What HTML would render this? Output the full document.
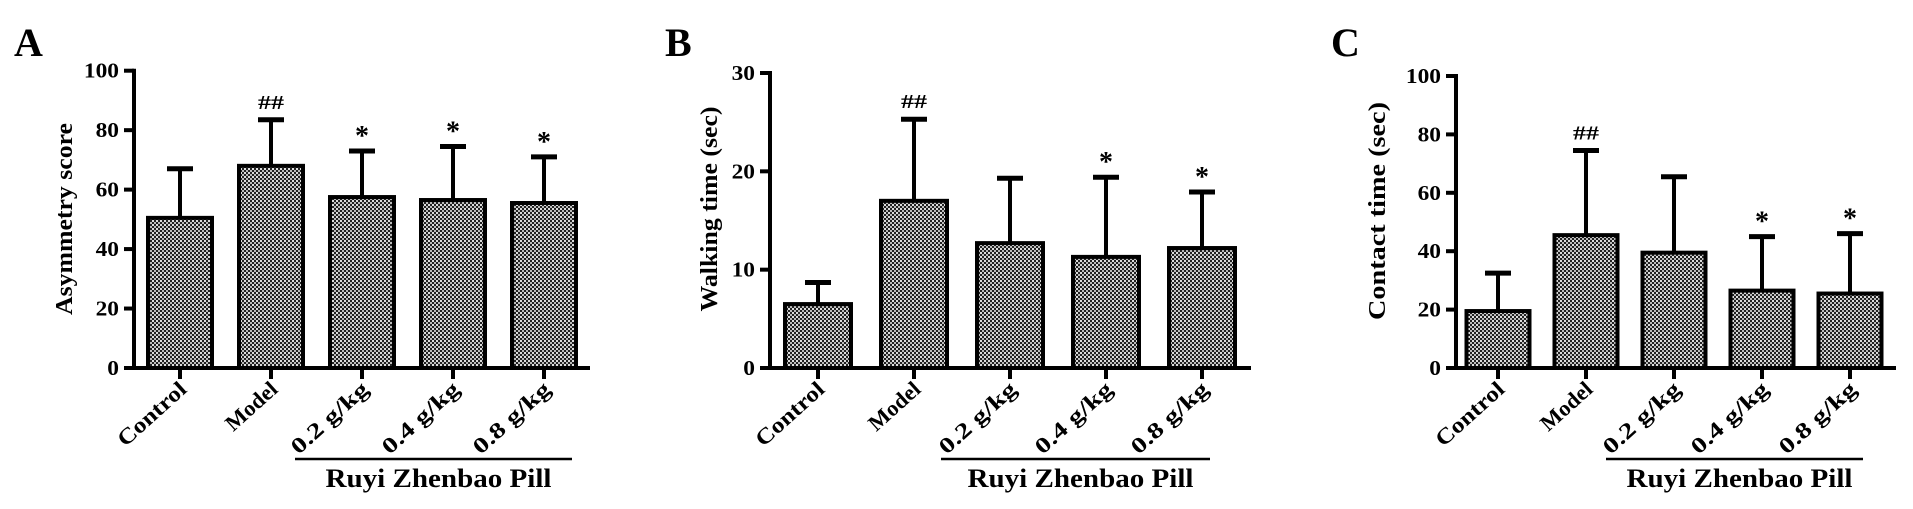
<!DOCTYPE html>
<html><head><meta charset="utf-8"><style>
html,body{margin:0;padding:0;background:#fff;}
svg{display:block;font-family:"Liberation Serif",serif;font-weight:bold;}
</style></head><body>
<svg id="fig" width="1913" height="509" viewBox="0 0 1913 509" xmlns="http://www.w3.org/2000/svg">
<defs>
<pattern id="chk" width="4" height="4" patternUnits="userSpaceOnUse">
<rect width="4" height="4" fill="#222"/>
<rect x="0" y="0" width="2" height="2" fill="#ddd"/>
<rect x="2" y="2" width="2" height="2" fill="#bbb"/>
</pattern>
</defs>
</svg>
<script>
const categories=["Control","Model","0.2 g/kg","0.4 g/kg","0.8 g/kg"];
const valuesA=[50.5,68,57.5,56.5,55.5];
const errTopA=[67,83.5,73,74.5,71];
const marksA=["","##","*","*","*"];
const ticksA=[0,20,40,60,80,100];
const valuesB=[6.5,17,12.7,11.3,12.2];
const errTopB=[8.7,25.3,19.3,19.4,17.9];
const marksB=["","##","","*","*"];
const ticksB=[0,10,20,30];
const valuesC=[19.5,45.5,39.5,26.5,25.5];
const errTopC=[32.5,74.5,65.5,45,46];
const marksC=["","##","","*","*"];
const ticksC=[0,20,40,60,80,100];

const NS="http://www.w3.org/2000/svg";
const svg=document.getElementById('fig');
function mk(tag,attrs,parent,text){const e=document.createElementNS(NS,tag);for(const k in attrs)e.setAttribute(k,attrs[k]);if(text!==undefined)e.textContent=text;(parent||svg).appendChild(e);return e;}

function panel(cfg){
  const g=mk('g',{});
  
  
  const ax=cfg.axisX, y0=cfg.y0, yTop=cfg.yTop, max=cfg.ticks[cfg.ticks.length-1];
  const ys=v=>y0-(v/max)*(y0-yTop);
  const xs=i=>cfg.x0+i*cfg.step;
  const bw=cfg.bw;
  const L=mk('text',{x:cfg.letterX,y:56,'font-size':40},g,cfg.letter);
  
  
  cfg.values.forEach((v,i)=>{
    const cx=xs(i);
    const eb=mk('g',{},g);
    
    
    mk('line',{x1:cx,x2:cx,y1:ys(v),y2:ys(cfg.err[i]),stroke:'#000','stroke-width':4},eb);
    mk('line',{x1:cx-13,x2:cx+13,y1:ys(cfg.err[i]),y2:ys(cfg.err[i]),stroke:'#000','stroke-width':5},eb);
    const r=mk('rect',{x:cx-bw/2,y:ys(v),width:bw,height:y0-ys(v),fill:'url(#chk)',stroke:'#000','stroke-width':4},g);
    
    
    if(cfg.marks[i]){
      const isHash=cfg.marks[i]==='##';
      const m=mk('text',{x:cx,y:ys(cfg.err[i])-(isHash?11:6),'text-anchor':'middle','font-size':isHash?20:28},g,cfg.marks[i]);
      if(isHash){m.setAttribute('textLength',26);m.setAttribute('lengthAdjust','spacingAndGlyphs');}
      
      
    }
    mk('line',{x1:cx,x2:cx,y1:y0,y2:y0+11,stroke:'#000','stroke-width':4},g);
    const lx=cx+8, ly=y0+23;
    const lb=mk('text',{x:lx,y:ly,'text-anchor':'end','font-size':22,textLength:categories[i].length*11.5+4,lengthAdjust:'spacingAndGlyphs',transform:`rotate(-42 ${lx} ${ly})`},g,categories[i]);
    
    
  });
  const ya=mk('line',{x1:ax,x2:ax,y1:yTop-2,y2:y0+2,stroke:'#000','stroke-width':4},g);
  
  
  const xa=mk('line',{x1:ax-10,x2:cfg.axisEnd,y1:y0,y2:y0,stroke:'#000','stroke-width':4},g);
  
  
  cfg.ticks.forEach(t=>{
    mk('line',{x1:ax-10,x2:ax,y1:ys(t),y2:ys(t),stroke:'#000','stroke-width':4},g);
    const s=String(t);
    const tl=mk('text',{x:ax-15,y:ys(t)+7,'text-anchor':'end','font-size':21,textLength:s.length*11.7,lengthAdjust:'spacingAndGlyphs'},g,s);
    
    
  });
  const yt=mk('text',{x:cfg.titleX,y:cfg.titleY,'text-anchor':'middle','font-size':24,textLength:cfg.titleLen,lengthAdjust:'spacingAndGlyphs',transform:`rotate(-90 ${cfg.titleX} ${cfg.titleY})`},g,cfg.title);
  
  
  const br=mk('line',{x1:cfg.brX1,x2:cfg.brX2,y1:459,y2:459,stroke:'#000','stroke-width':2.5},g);
  
  
  const gl=mk('text',{x:(cfg.brX1+cfg.brX2)/2+5,y:487,'text-anchor':'middle','font-size':26,textLength:226,lengthAdjust:'spacingAndGlyphs'},g,'Ruyi Zhenbao Pill');
  
  
}
panel({letter:'A',letterX:14,axisX:134,y0:368,yTop:70.7,axisEnd:590,x0:180,step:91,bw:64,values:valuesA,err:errTopA,marks:marksA,ticks:ticksA,title:'Asymmetry score',titleLen:192,titleX:72,titleY:219,brX1:295,brX2:572});
panel({letter:'B',letterX:665,axisX:770,y0:368,yTop:73,axisEnd:1251,x0:818,step:96,bw:66,values:valuesB,err:errTopB,marks:marksB,ticks:ticksB,title:'Walking time (sec)',titleLen:205,titleX:717,titleY:209,brX1:941,brX2:1210});
panel({letter:'C',letterX:1331,axisX:1456,y0:368,yTop:76,axisEnd:1896,x0:1498,step:88,bw:63,values:valuesC,err:errTopC,marks:marksC,ticks:ticksC,title:'Contact time (sec)',titleLen:218,titleX:1385,titleY:211,brX1:1606,brX2:1863});
</script>
</body></html>
